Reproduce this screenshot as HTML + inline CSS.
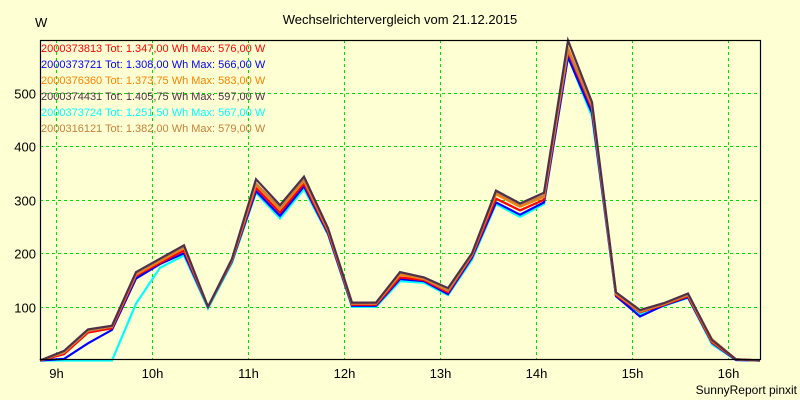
<!DOCTYPE html>
<html><head><meta charset="utf-8"><style>
html,body{margin:0;padding:0;background:#ffffd4;}
svg{display:block;font-family:"Liberation Sans",Arial,sans-serif;}
</style></head><body>
<svg id="chart" width="800" height="400" viewBox="0 0 800 400">
<rect x="0" y="0" width="800" height="400" fill="#ffffd4"/>
<text x="400" y="24" text-anchor="middle" font-size="13" fill="#000">Wechselrichtervergleich vom 21.12.2015</text>
<text x="35" y="27" font-size="13" fill="#000">W</text>
<text x="797" y="394" text-anchor="end" font-size="12" fill="#000">SunnyReport pinxit</text>
<g id="grid"></g>
<g id="series"></g>
<g id="axes"></g>
<g id="legend"></g>
</svg>
<script>
const yTicks = [100,200,300,400,500];
const xHours = [9,10,11,12,13,14,15,16];
const xLabels = ["9h","10h","11h","12h","13h","14h","15h","16h"];
const startHour = 8 + 50/60;
const stepMin = 15;
const sDark   = [0,18,58,65,165,190,215,100,190,338,290,343,247,108,108,165,155,135,200,317,293,313,597,482,127,94,107,125,38,2,0];
const sBrown  = [0,15,55,63,162,188,212,100,188,330,285,338,245,106,106,163,153,130,198,313,290,308,579,475,125,92,106,122,40,2,0];
const sOrange = [0,15,57,63,160,185,210,100,188,328,282,335,243,106,106,160,152,130,197,310,287,305,583,475,124,91,105,122,36,2,0];
const sRed    = [0,12,52,60,158,182,205,100,186,322,276,330,240,104,104,155,150,127,195,302,280,300,576,470,122,90,104,120,34,2,0];
const sBlue   = [0,3,32,57,153,180,200,100,185,316,270,325,237,102,102,152,148,124,192,295,272,295,566,462,120,82,103,118,33,1,0];
const sCyan   = [0,0,0,0,106,173,196,97,182,313,265,320,235,100,100,148,145,122,188,292,268,292,567,455,120,86,102,117,30,1,0];
const legendLabels = [
 "2000373813 Tot: 1.347,00 Wh Max: 576,00 W",
 "2000373721 Tot: 1.308,00 Wh Max: 566,00 W",
 "2000376360 Tot: 1.373,75 Wh Max: 583,00 W",
 "2000374431 Tot: 1.405,75 Wh Max: 597,00 W",
 "2000373724 Tot: 1.251,50 Wh Max: 567,00 W",
 "2000316121 Tot: 1.382,00 Wh Max: 579,00 W"];
const legendColors = ["#ff0000","#0000ff","#ff8000","#503048","#00ffff","#c8803c"];

const NS="http://www.w3.org/2000/svg";
const L=40,R=760,T=40,B=359;
const xScale=h=>L+(h-startHour)*96;
const yScale=v=>360.5-v*0.536;
function mk(tag,attrs,parent){const e=document.createElementNS(NS,tag);for(const k in attrs)e.setAttribute(k,attrs[k]);parent.appendChild(e);return e;}
const grid=document.getElementById('grid'),axes=document.getElementById('axes'),ser=document.getElementById('series'),leg=document.getElementById('legend');
yTicks.forEach(v=>{
 const y=Math.round(yScale(v))+0.5;
 const g=mk('line',{x1:L,x2:R,y1:y,y2:y,stroke:'#00e000','stroke-dasharray':'3,3'},grid);
 
 
 const t=mk('text',{x:36,y:y+5,'text-anchor':'end','font-size':'13',fill:'#000'},axes);
 t.textContent=v;
 
 
});
xHours.forEach((h,i)=>{
 const x=Math.round(xScale(h))+0.5;
 const g=mk('line',{x1:x,x2:x,y1:T,y2:B,stroke:'#00e000','stroke-dasharray':'3,3'},grid);
 
 
 const t=mk('text',{x:x,y:378,'text-anchor':'middle','font-size':'13',fill:'#000'},axes);
 t.textContent=xLabels[i];
 
 
});
const frame=mk('rect',{x:L+0.5,y:T+0.5,width:R-L,height:B-T,fill:'none',stroke:'#000','stroke-width':1.2},axes);


const drawList=[[sCyan,4],[sBlue,1],[sRed,0],[sOrange,2],[sBrown,5],[sDark,3]];
drawList.forEach(([data,ci])=>{
 const pts=data.map((v,i)=>xScale(startHour+i*stepMin/60).toFixed(1)+','+yScale(v).toFixed(1)).join(' ');
 const p=mk('polyline',{points:pts,fill:'none',stroke:legendColors[ci],'stroke-width':2.2,'stroke-linejoin':'miter'},ser);
 
 
});
legendLabels.forEach((lbl,i)=>{
 const t=mk('text',{x:41,y:52+i*16,'font-size':'11',fill:legendColors[i]},leg);
 t.textContent=lbl;
 
 
});
</script>
</body></html>
